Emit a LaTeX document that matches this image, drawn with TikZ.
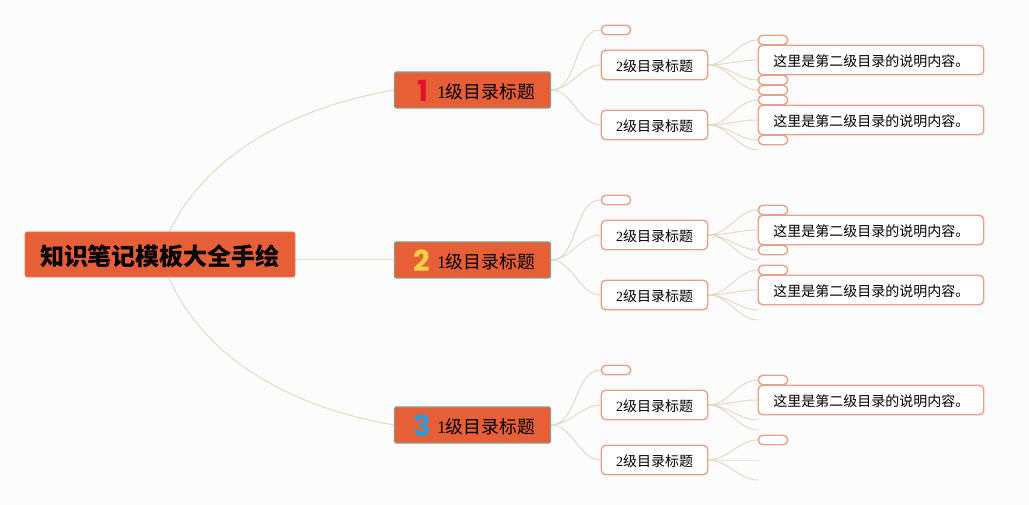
\documentclass[tikz,border=0pt]{standalone}
\usepackage{fontspec}
\setmainfont{Noto Sans CJK SC}
\newfontfamily\digitfont{Liberation Serif}
\newfontfamily\iconfont{Poppins}[BoldFont={Poppins Bold}]
\usetikzlibrary{backgrounds}
\definecolor{bgc}{HTML}{FCFCFC}
\definecolor{orangec}{HTML}{E75F36}
\definecolor{graybd}{HTML}{8E9A86}
\definecolor{pinkbd}{HTML}{E8A08A}
\definecolor{linec}{HTML}{E4DAC5}
\definecolor{one}{HTML}{E3122A}
\definecolor{two}{HTML}{FBD24A}
\definecolor{three}{HTML}{2E9AD8}
\newcommand{\dg}[1]{{\digitfont #1}}
\newcommand{\low}[2]{\raisebox{-#1pt}[\height][\depth]{#2}}
\tikzset{
  x=1pt,y=-1pt,
  rootbox/.style={fill=orangec,draw=orangec!85!white,line width=.6pt,rounded corners=1.5pt,minimum width=270pt,minimum height=45pt,inner sep=0pt,font=\fontsize{24}{26}\selectfont\bfseries,text=black},
  onebox/.style={fill=orangec,draw=graybd,line width=1.3pt,rounded corners=1.5pt,minimum width=156pt,minimum height=36pt,inner sep=0pt,font=\fontsize{17.8}{20}\selectfont,text=black},
  twobox/.style={fill=white,draw=pinkbd,line width=1.4pt,rounded corners=4.5pt,minimum width=106.5pt,minimum height=29.5pt,inner sep=0pt,font=\fontsize{14}{16}\selectfont,text=black},
  descbox/.style={fill=white,draw=pinkbd,line width=1.4pt,rounded corners=4.5pt,minimum width=225.5pt,minimum height=29.5pt,inner xsep=15pt,inner ysep=0pt,text width=195.5pt,align=left,font=\fontsize{14}{16}\selectfont,text=black},
  pill/.style={fill=white,draw=pinkbd,line width=1.4pt,rounded corners=4.7pt,minimum width=29.5pt,minimum height=9.5pt,inner sep=0pt},
  iconnum/.style={inner sep=0pt,font=\iconfont\bfseries\fontsize{29}{30}\selectfont},
  conn/.style={draw=linec,line width=1pt},
  curve/.style={conn,out=0,in=180,looseness=.9}
}
\newcommand{\desctext}{\low{1.5}{这里是第二级目录的说明内容。}}
\newcommand{\onetext}{\hspace*{27pt}\low{1.5}{\dg{1}级目录标题}}
\newcommand{\twotext}{\low{1.5}{\dg{2}级目录标题}}
\begin{document}
\begin{tikzpicture}
\useasboundingbox (0,0) rectangle (1029,505);
% root and level 1
\node[rootbox] (root) at (160,254.5) {\low{1.5}{知识笔记模板大全手绘}};
\node[onebox] (a) at (472.5,90) {\onetext};
\node[onebox] (b) at (472.5,260) {\onetext};
\node[onebox] (c) at (472.5,425) {\onetext};
\node[iconnum,text=one] (ia) at (423,90.5) {1};
\node[iconnum,text=two] (ib) at (422,260.5) {2};
\node[iconnum,text=three] (ic) at (422,425.5) {3};
% block A
\node[pill] (a0) at (616,30) {};
\node[twobox] (a1) at (654.5,65) {\twotext};
\node[twobox] (a2) at (654.5,125) {\twotext};
\node[pill] (a1p) at (773,40) {};
\node[pill] (a1q) at (773,80) {};
\node[pill] (a1r) at (773,90) {};
\node[descbox] (a1d) at (871,60) {\desctext};
\node[pill] (a2p) at (773,100) {};
\node[pill] (a2q) at (773,140) {};
\node[descbox] (a2d) at (871,120) {\desctext};
\coordinate (a2e) at (758,150);
% block B
\node[pill] (b0) at (616,200) {};
\node[twobox] (b1) at (654.5,235) {\twotext};
\node[twobox] (b2) at (654.5,295) {\twotext};
\node[pill] (b1p) at (773,210) {};
\node[pill] (b1q) at (773,250) {};
\node[descbox] (b1d) at (871,230) {\desctext};
\coordinate (b1e) at (758,260);
\node[pill] (b2p) at (773,270) {};
\node[descbox] (b2d) at (871,290) {\desctext};
\coordinate (b2e) at (758,310);
\coordinate (b2f) at (758,320);
% block C
\node[pill] (c0) at (616,370) {};
\node[twobox] (c1) at (654.5,405) {\twotext};
\node[twobox] (c2) at (654.5,460) {\twotext};
\node[pill] (c1p) at (773,380) {};
\node[descbox] (c1d) at (871,400) {\desctext};
\coordinate (c1e) at (758,420);
\coordinate (c1f) at (758,430);
\node[pill] (c2p) at (773,440) {};
\coordinate (c2e) at (758,460);
\coordinate (c2f) at (758,480);
\begin{scope}[on background layer]
\fill[bgc] (0,0) rectangle (1029,505);
\draw[conn] (root.center) .. controls (190,165) and (280,110) .. (a.west);
\draw[conn] (root.east |- b.west) -- (b.west);
\draw[conn] (root.center) .. controls (190,350) and (280,405) .. (c.west);
\foreach \p/\q in {a/a0,a/a1,a/a2,b/b0,b/b1,b/b2,c/c0,c/c1,c/c2}
  \draw[curve] (\p.east) to (\q.west);
\foreach \p/\q in {a1/a1p,a1/a1d,a1/a1q,a1/a1r,a2/a2p,a2/a2d,a2/a2q,b1/b1p,b1/b1d,b1/b1q,b2/b2p,b2/b2d,c1/c1p,c1/c1d,c2/c2p}
  \draw[curve] (\p.east) to (\q.west);
\foreach \p/\q in {a2/a2e,b1/b1e,b2/b2e,b2/b2f,c1/c1e,c1/c1f,c2/c2e,c2/c2f}
  \draw[curve] (\p.east) to (\q);
\end{scope}
\end{tikzpicture}
\end{document}
